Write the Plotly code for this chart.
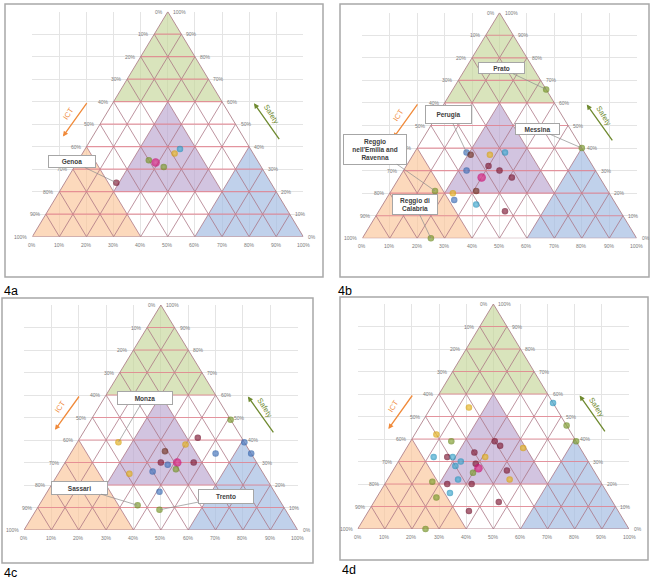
import plotly.graph_objects as go

W, H = 652, 583

# ---------------- data (percentages: ICT, Accessibility, Safety) ----------------
ict_4a = [40, 38, 36, 29, 26, 57]
acc_4a = [26, 29, 33, 34, 35, 19]
saf_4a = [34, 33, 31, 37, 39, 24]
col_4a = ["G", "M", "G", "Y", "C", "R"]
call_4a = [("Genoa", 5)]

ict_4b = [43, 42, 35, 29, 38, 35, 47, 43, 32, 63, 57, 48, 58, 51, 42, 0, 0, 75]
acc_4b = [19, 21, 28, 33, 30, 35, 23, 30, 41, 16, 23, 31, 25, 34, 46, 34, 60, 25]
saf_4b = [38, 37, 37, 38, 32, 30, 30, 27, 27, 21, 20, 21, 17, 15, 12, 66, 40, 0]
col_4b = ["B", "N", "Y", "C", "R", "R", "B", "M", "R", "G", "Y", "N", "B", "C", "R", "G", "G", "G"]
call_4b = [("Perugia", 0), ("Reggio<br>nell'Emilia and<br>Ravenna", 9),
           ("Reggio di<br>Calabria", 17), ("Prato", 15), ("Messina", 16)]

ict_4c = [46, 0, 16, 22, 0, 0, 13, 31, 35, 33, 29, 23, 31, 40, 49, 42, 53, 46]
acc_4c = [15, 51, 43, 40, 61, 66, 53, 34, 35, 38, 41, 47, 42, 34, 26, 41, 36, 45]
saf_4c = [39, 49, 41, 38, 39, 34, 34, 35, 30, 29, 30, 30, 27, 26, 25, 17, 11, 9]
col_4c = ["Y", "G", "R", "Y", "B", "B", "B", "N", "R", "B", "M", "R", "G", "B", "Y", "B", "G", "G"]
call_4c = [("Monza", 0), ("Sassari", 16), ("Trento", 17)]

ict_4d = [32, 0, 0, 50, 46, 0, 30, 29, 21, 40, 51, 56, 49, 37, 47, 50, 42, 42, 32, 45,
          52, 62, 33, 57, 48, 58, 64, 42, 55, 75]
acc_4d = [14, 44, 54, 8, 15, 61, 31, 34, 43, 26, 17, 12, 19, 31, 23, 22, 29, 31, 42, 30,
          26, 17, 45, 23, 32, 26, 22, 46, 37, 25]
saf_4d = [54, 56, 46, 42, 39, 39, 39, 37, 36, 34, 32, 32, 32, 32, 30, 28, 29, 27, 26, 25,
          22, 21, 22, 20, 20, 16, 14, 12, 8, 0]
col_4d = ["Y", "C", "G", "Y", "G", "G", "R", "R", "Y", "R", "R", "C", "C", "Y", "C", "C",
          "R", "M", "R", "G", "C", "G", "Y", "R", "R", "C", "G", "R", "R", "G"]
call_4d = []

tick_values = [0, 10, 20, 30, 40, 50, 60, 70, 80, 90, 100]

# ---------------- styling / layout geometry ----------------
COLORS = {
    "M": ("#c80c70", "#e0408f"),
    "R": ("#70102b", "#93324b"),
    "N": ("#65281a", "#874634"),
    "Y": ("#d49e0a", "#eec23a"),
    "C": ("#2290b9", "#56b6da"),
    "B": ("#2f60a8", "#5a88cc"),
    "G": ("#6a8820", "#90ad40"),
}

PANELS = [
    dict(tag="4a", ict=ict_4a, acc=acc_4a, saf=saf_4a, col=col_4a, call=call_4a,
         left=32.3, right=303.3, top=11.7, base=236.7, frame=(5, 4, 323, 277), tagpos=(2, 291),
         boxes=[(0.148, 0.334, 44, 9)]),
    dict(tag="4b", ict=ict_4b, acc=acc_4b, saf=saf_4b, col=col_4b, call=call_4b,
         left=362.3, right=636.7, top=12.7, base=238.3, frame=(340, 4, 649, 277), tagpos=(336, 291),
         boxes=[(0.315, 0.548, 43, 15), (0.048, 0.395, 60, 27), (0.192, 0.148, 42, 17),
                (0.507, 0.754, 43, 8), (0.637, 0.486, 41, 8)]),
    dict(tag="4c", ict=ict_4c, acc=acc_4c, saf=saf_4c, col=col_4c, call=call_4c,
         left=24, right=297.7, top=305, base=530, frame=(2, 298, 313, 563), tagpos=(2, 573),
         boxes=[(0.441, 0.588, 52, 10), (0.203, 0.188, 53, 10), (0.737, 0.148, 52, 11)]),
    dict(tag="4d", ict=ict_4d, acc=acc_4d, saf=saf_4d, col=col_4d, call=call_4d,
         left=357.7, right=629, top=304, base=529, frame=(340, 297, 648, 560), tagpos=(340, 570),
         boxes=[]),
]

FONT = "Liberation Sans"


def proj(acc, saf):
    """ternary (percent) -> plane of the chart (base fraction, height fraction)"""
    return acc / 100 + saf / 200, saf / 100


fig = go.Figure()
annotations = []
shapes = []
layout_axes = {}

for i, p in enumerate(PANELS, start=1):
    xa = "x" if i == 1 else f"x{i}"
    ya = "y" if i == 1 else f"y{i}"
    xkey = "xaxis" if i == 1 else f"xaxis{i}"
    ykey = "yaxis" if i == 1 else f"yaxis{i}"
    ax_common = dict(range=[0, 1], dtick=0.1, tick0=0, showgrid=True, gridcolor="#e4e4e4",
                     gridwidth=1, zeroline=False, showticklabels=False, ticks="",
                     showline=False, fixedrange=True)
    layout_axes[xkey] = dict(ax_common, domain=[p["left"] / W, p["right"] / W], anchor=ya)
    layout_axes[ykey] = dict(ax_common, domain=[1 - p["base"] / H, 1 - p["top"] / H], anchor=xa)

    # coloured zones (ternary vertices: acc, saf)
    zones = [
        ([(0, 60), (40, 60), (0, 100)], "rgba(196,214,152,0.65)"),   # Safety >= 60
        ([(0, 0), (40, 0), (0, 40)], "rgba(250,196,152,0.65)"),      # ICT >= 60
        ([(60, 0), (100, 0), (60, 40)], "rgba(165,190,226,0.70)"),   # Access >= 60
        ([(20, 20), (60, 20), (20, 60)], "rgba(186,164,208,0.65)"),  # all >= 20
    ]
    for verts, fc in zones:
        xs, ys = zip(*[proj(a, s) for a, s in verts])
        fig.add_trace(go.Scatter(x=list(xs) + [xs[0]], y=list(ys) + [ys[0]], mode="lines",
                                 fill="toself", fillcolor=fc, line=dict(width=0),
                                 hoverinfo="skip", showlegend=False, xaxis=xa, yaxis=ya))

    # ternary grid
    hx, hy, dx, dy = [], [], [], []
    for k in range(10, 100, 10):
        x0, y0 = proj(0, k)
        x1, y1 = proj(100 - k, k)
        hx += [x0, x1, None]; hy += [y0, y1, None]
        x0, y0 = proj(k, 0)
        x1, y1 = proj(k, 100 - k)
        dx += [x0, x1, None]; dy += [y0, y1, None]
        x0, y0 = proj(100 - k, 0)
        x1, y1 = proj(0, 100 - k)
        dx += [x0, x1, None]; dy += [y0, y1, None]
    fig.add_trace(go.Scatter(x=dx, y=dy, mode="lines", line=dict(color="rgba(168,112,128,0.75)", width=1),
                             hoverinfo="skip", showlegend=False, xaxis=xa, yaxis=ya))
    fig.add_trace(go.Scatter(x=hx, y=hy, mode="lines", line=dict(color="rgba(226,128,140,0.8)", width=1.2),
                             hoverinfo="skip", showlegend=False, xaxis=xa, yaxis=ya))
    ex, ey = zip(*[proj(a, s) for a, s in [(0, 0), (100, 0), (0, 100), (0, 0)]])
    fig.add_trace(go.Scatter(x=ex, y=ey, mode="lines", line=dict(color="rgba(175,130,140,0.9)", width=1),
                             hoverinfo="skip", showlegend=False, xaxis=xa, yaxis=ya, cliponaxis=False))

    # points
    pts = [proj(a, s) for a, s in zip(p["acc"], p["saf"])]
    px = [q[0] for q in pts]
    py = [q[1] for q in pts]
    fig.add_trace(go.Scatter(
        x=px, y=py, mode="markers", cliponaxis=False, showlegend=False,
        customdata=list(zip(p["ict"], p["acc"], p["saf"])),
        hovertemplate="ICT %{customdata[0]}%<br>Accessibility %{customdata[1]}%<br>Safety %{customdata[2]}%<extra></extra>",
        marker=dict(color=[COLORS[c][0] for c in p["col"]],
                    size=[8.5 if c == "M" else 6.5 for c in p["col"]],
                    gradient=dict(type="radial", color=[COLORS[c][1] for c in p["col"]]),
                    line=dict(width=0)),
        xaxis=xa, yaxis=ya))

    # tick labels
    tf = dict(family=FONT, size=5, color="#7a7a7a")
    for v in tick_values:
        x0, y0 = proj(v, 0)
        annotations.append(dict(x=x0, y=y0, xref=xa, yref=ya, text=f"{v}%", showarrow=False,
                                xanchor="center", yanchor="top", yshift=-3, font=tf))
        xl, yl = proj(0, v)
        annotations.append(dict(x=xl, y=yl, xref=xa, yref=ya, text=f"{100 - v}%", showarrow=False,
                                xanchor="right", yanchor="middle", xshift=-3, font=tf))
        xr, yr = proj(100 - v, v)
        annotations.append(dict(x=xr, y=yr, xref=xa, yref=ya, text=f"{v}%", showarrow=False,
                                xanchor="left", yanchor="middle", xshift=3, font=tf))

    # axis names and arrows
    arrows = [((0.205, 0.600), (0.113, 0.445), "#f08a3a"),
              ((0.915, 0.427), (0.818, 0.593), "#6f8a30"),
              ((0.397, -0.069), (0.560, -0.069), "#4f8ed0")]
    for (tx, ty), (hx_, hy_), c in arrows:
        annotations.append(dict(x=hx_, y=hy_, ax=tx, ay=ty, xref=xa, yref=ya, axref=xa, ayref=ya,
                                text="", showarrow=True, arrowhead=2, arrowsize=0.8,
                                arrowwidth=1.3, arrowcolor=c))
    annotations.append(dict(x=0.133, y=0.548, xref=xa, yref=ya, text="ICT", showarrow=False,
                            textangle=-57, font=dict(family=FONT, size=7.5, color="#f08a3a")))
    annotations.append(dict(x=0.882, y=0.541, xref=xa, yref=ya, text="Safety", showarrow=False,
                            textangle=58, font=dict(family=FONT, size=7.5, color="#6f8a30")))
    annotations.append(dict(x=0.481, y=-0.118, xref=xa, yref=ya, text="<b>Accessibility</b>",
                            showarrow=False, font=dict(family=FONT, size=7.5, color="#4f8ed0")))

    # city call-outs
    for (txt, idx), (bx, by, bw, bh) in zip(p["call"], p["boxes"]):
        annotations.append(dict(x=px[idx], y=py[idx], ax=bx, ay=by, xref=xa, yref=ya, axref=xa,
                                ayref=ya, text=f"<b>{txt}</b>", showarrow=True, arrowhead=0,
                                arrowwidth=0.7, arrowcolor="#8c8c8c", bgcolor="white",
                                bordercolor="#a6a6a6", borderwidth=1, borderpad=1,
                                width=bw, height=bh, align="center",
                                font=dict(family=FONT, size=6.5, color="#404040")))

    # frame and panel tag
    fx0, fy0, fx1, fy1 = p["frame"]
    shapes.append(dict(type="rect", xref="paper", yref="paper", x0=fx0 / W, x1=fx1 / W,
                       y0=1 - fy1 / H, y1=1 - fy0 / H, line=dict(color="#a8a8a8", width=1.5),
                       layer="below"))
    tx_, ty_ = p["tagpos"]
    annotations.append(dict(x=tx_ / W, y=1 - ty_ / H, xref="paper", yref="paper", text=p["tag"],
                            showarrow=False, xanchor="left", yanchor="middle",
                            font=dict(family=FONT, size=12.5, color="#000000")))

fig.update_layout(width=W, height=H, margin=dict(l=0, r=0, t=0, b=0),
                  paper_bgcolor="white", plot_bgcolor="white", showlegend=False,
                  annotations=annotations, shapes=shapes, **layout_axes)

fig.write_html("out.html")
